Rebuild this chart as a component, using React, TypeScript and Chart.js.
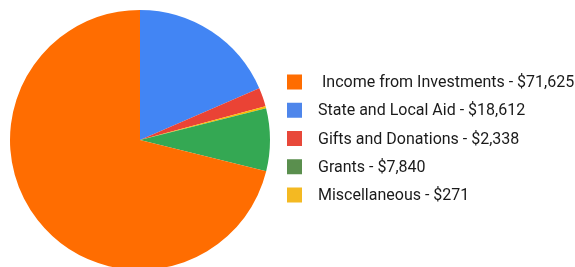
import React, { useEffect, useRef } from "react";
import { Chart, registerables } from "chart.js";

Chart.register(...registerables);

// Legend order
const categories = [" Income from Investments", "State and Local Aid", "Gifts and Donations", "Grants", "Miscellaneous"];
const amounts = [71625, 18612, 2338, 7840, 271];
const sliceColors = ["#FF6D01", "#4285F4", "#EA4335", "#34A853", "#FBBC04"];
const legendColors = ["#FF6D01", "#4E86EB", "#E8483A", "#5A8F4E", "#F4B922"];
// Order of slices clockwise from 12 o'clock (indices into the arrays above)
const pieOrder = [1, 2, 4, 3, 0];

const fmt = (v: number) => "$" + v.toLocaleString("en-US");

const legendPlugin = {
  id: "sideLegend",
  afterDraw(chart: any) {
    const ctx = chart.ctx;
    ctx.save();
    ctx.font = "16px Roboto, 'Noto Sans', sans-serif";
    ctx.textBaseline = "middle";
    ctx.textAlign = "left";
    categories.forEach((c, i) => {
      const cy = 82 + i * 28.25;
      ctx.fillStyle = legendColors[i];
      ctx.fillRect(287, cy - 7.5, 15, 15);
      ctx.fillStyle = "#1a1a1a";
      ctx.fillText(`${c} - ${fmt(amounts[i])}`, 318, cy + 1);
    });
    ctx.restore();
  },
};

export default function App() {
  const ref = useRef<HTMLCanvasElement | null>(null);
  useEffect(() => {
    document.body.style.margin = "0";
    if (!ref.current) return;
    const chart = new Chart(ref.current, {
      type: "pie",
      data: {
        labels: pieOrder.map((i) => categories[i].trim()),
        datasets: [
          {
            data: pieOrder.map((i) => amounts[i]),
            backgroundColor: pieOrder.map((i) => sliceColors[i]),
            borderWidth: 0,
          },
        ],
      },
      options: {
        responsive: false,
        animation: false,
        layout: { padding: { left: 10, top: 10, right: 305, bottom: 10 } },
        plugins: { legend: { display: false }, tooltip: { enabled: false } },
      },
      plugins: [legendPlugin],
    });
    return () => chart.destroy();
  }, []);
  return (
    <div style={{ position: "relative", width: 575, height: 267, overflow: "hidden", background: "#fff" }}>
      <canvas ref={ref} width={575} height={280} style={{ position: "absolute", left: 0, top: 0, width: 575, height: 280 }} />
    </div>
  );
}
